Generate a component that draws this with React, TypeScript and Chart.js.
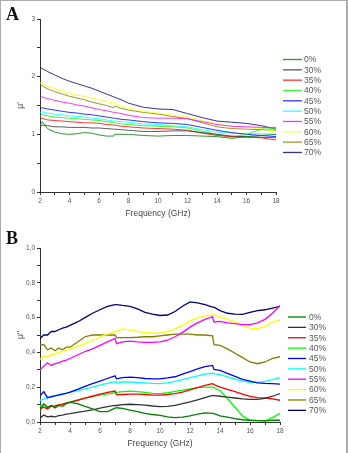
import React, { useEffect, useRef } from "react";
import { Chart, registerables } from "chart.js";

Chart.register(...registerables);

// Composition labels and Origin-style series colours
const SERIES_LABELS = ["0%", "30%", "35%", "40%", "45%", "50%", "55%", "60%", "65%", "70%"];
const SERIES_COLORS = [
  "#008000", "#333333", "#ff0000", "#00ff00", "#0000ff",
  "#00ffff", "#ff00ff", "#ffff00", "#808000", "#000080",
];

// Real permeability μ' (panel A)
const FREQ_REAL = [2, 2.15, 2.5, 3, 3.5, 4, 4.5, 5, 5.5, 6, 6.5, 7, 7.05, 7.5, 8, 9, 10, 11, 12, 13, 14, 15, 16, 17, 18];
const REAL_0 = [1.15, 1.22, 1.1, 1.04, 1.01, 1.0, 1.01, 1.03, 1.02, 0.99, 0.97, 0.97, 1.0, 1.0, 1.0, 0.98, 0.97, 0.98, 0.98, 0.97, 0.96, 0.93, 0.96, 0.98, 1.0];
const REAL_30 = [1.14, 1.16, 1.15, 1.13, 1.13, 1.12, 1.12, 1.12, 1.11, 1.11, 1.1, 1.09, 1.09, 1.08, 1.07, 1.05, 1.05, 1.06, 1.06, 1.03, 1.0, 0.97, 0.96, 0.95, 0.94];
const REAL_35 = [1.26, 1.28, 1.25, 1.24, 1.23, 1.22, 1.21, 1.2, 1.2, 1.19, 1.17, 1.16, 1.16, 1.14, 1.13, 1.11, 1.1, 1.09, 1.07, 1.02, 0.98, 0.96, 0.95, 0.94, 0.9];
const REAL_40 = [1.33, 1.34, 1.32, 1.3, 1.29, 1.28, 1.27, 1.26, 1.25, 1.24, 1.22, 1.2, 1.2, 1.18, 1.17, 1.15, 1.14, 1.13, 1.11, 1.05, 1.0, 0.95, 1.0, 1.09, 1.1];
const REAL_45 = [1.45, 1.46, 1.44, 1.42, 1.4, 1.38, 1.37, 1.35, 1.34, 1.32, 1.3, 1.28, 1.28, 1.26, 1.25, 1.22, 1.2, 1.19, 1.17, 1.12, 1.07, 1.03, 1.0, 0.98, 0.96];
const REAL_50 = [1.38, 1.39, 1.37, 1.35, 1.34, 1.32, 1.31, 1.3, 1.28, 1.27, 1.25, 1.23, 1.23, 1.22, 1.21, 1.18, 1.17, 1.15, 1.13, 1.08, 1.04, 1.02, 1.01, 1.01, 1.0];
const REAL_55 = [1.64, 1.65, 1.62, 1.59, 1.56, 1.54, 1.51, 1.49, 1.46, 1.43, 1.41, 1.38, 1.38, 1.36, 1.33, 1.29, 1.28, 1.28, 1.27, 1.22, 1.17, 1.14, 1.13, 1.12, 1.12];
const REAL_60 = [1.9, 1.88, 1.84, 1.79, 1.75, 1.71, 1.68, 1.66, 1.63, 1.6, 1.57, 1.54, 1.53, 1.49, 1.45, 1.4, 1.37, 1.33, 1.3, 1.24, 1.18, 1.14, 1.12, 1.1, 1.05];
const REAL_65 = [1.86, 1.84, 1.79, 1.74, 1.7, 1.66, 1.63, 1.6, 1.56, 1.53, 1.5, 1.46, 1.49, 1.45, 1.42, 1.38, 1.35, 1.31, 1.27, 1.2, 1.13, 1.1, 1.09, 1.08, 1.07];
const REAL_70 = [2.16, 2.14, 2.09, 2.03, 1.97, 1.92, 1.88, 1.84, 1.8, 1.75, 1.7, 1.65, 1.645, 1.6, 1.54, 1.47, 1.44, 1.43, 1.36, 1.29, 1.23, 1.21, 1.19, 1.15, 1.09];

// Imaginary permeability μ'' (panel B)
const FREQ_IMAG = [2, 2.25, 2.5, 2.75, 3, 3.25, 3.5, 3.75, 4, 4.5, 5, 5.5, 6, 6.5, 7, 7.1, 7.5, 8, 8.5, 9, 9.5, 10, 10.5, 11, 11.5, 12, 12.5, 13, 13.5, 13.6, 14, 14.5, 15, 15.5, 16, 16.5, 17, 17.5, 18];
const IMAG_0 = [0.065, 0.105, 0.085, 0.095, 0.08, 0.095, 0.09, 0.105, 0.113, 0.105, 0.09, 0.075, 0.06, 0.06, 0.08, 0.082, 0.078, 0.068, 0.06, 0.05, 0.043, 0.038, 0.03, 0.025, 0.028, 0.035, 0.045, 0.052, 0.05, 0.048, 0.035, 0.028, 0.02, 0.013, 0.01, 0.008, 0.007, 0.01, 0.01];
const IMAG_30 = [0.022, 0.04, 0.03, 0.033, 0.03, 0.037, 0.04, 0.045, 0.048, 0.055, 0.062, 0.07, 0.08, 0.088, 0.096, 0.095, 0.1, 0.102, 0.1, 0.097, 0.092, 0.088, 0.09, 0.096, 0.105, 0.115, 0.127, 0.14, 0.153, 0.152, 0.148, 0.143, 0.138, 0.133, 0.13, 0.13, 0.136, 0.148, 0.163];
const IMAG_35 = [0.075, 0.085, 0.075, 0.09, 0.092, 0.098, 0.103, 0.108, 0.113, 0.125, 0.137, 0.148, 0.16, 0.17, 0.178, 0.157, 0.158, 0.16, 0.16, 0.158, 0.155, 0.155, 0.158, 0.163, 0.172, 0.185, 0.197, 0.21, 0.22, 0.215, 0.2, 0.187, 0.175, 0.16, 0.147, 0.14, 0.138, 0.133, 0.125];
const IMAG_40 = [0.09, 0.1, 0.08, 0.095, 0.085, 0.1, 0.1, 0.11, 0.115, 0.125, 0.137, 0.147, 0.155, 0.162, 0.168, 0.17, 0.175, 0.177, 0.175, 0.17, 0.165, 0.163, 0.168, 0.176, 0.183, 0.19, 0.197, 0.2, 0.2, 0.198, 0.18, 0.135, 0.085, 0.035, 0.01, 0.008, 0.005, 0.025, 0.05];
const IMAG_45 = [0.15, 0.175, 0.14, 0.145, 0.15, 0.155, 0.16, 0.165, 0.172, 0.188, 0.205, 0.22, 0.235, 0.25, 0.265, 0.248, 0.255, 0.258, 0.255, 0.25, 0.248, 0.248, 0.253, 0.26, 0.275, 0.29, 0.305, 0.318, 0.325, 0.302, 0.297, 0.28, 0.262, 0.245, 0.235, 0.225, 0.222, 0.22, 0.218];
const IMAG_50 = [0.125, 0.13, 0.14, 0.148, 0.152, 0.158, 0.162, 0.166, 0.17, 0.18, 0.19, 0.2, 0.212, 0.222, 0.232, 0.228, 0.23, 0.23, 0.228, 0.225, 0.222, 0.22, 0.225, 0.233, 0.243, 0.255, 0.265, 0.275, 0.28, 0.278, 0.272, 0.26, 0.247, 0.235, 0.228, 0.228, 0.233, 0.243, 0.255];
const IMAG_55 = [0.3, 0.32, 0.34, 0.325, 0.335, 0.34, 0.35, 0.355, 0.365, 0.385, 0.405, 0.42, 0.44, 0.46, 0.48, 0.45, 0.46, 0.465, 0.46, 0.458, 0.458, 0.46, 0.47, 0.49, 0.515, 0.545, 0.57, 0.59, 0.605, 0.575, 0.578, 0.57, 0.565, 0.56, 0.56, 0.57, 0.59, 0.625, 0.67];
const IMAG_60 = [0.36, 0.38, 0.375, 0.39, 0.39, 0.4, 0.405, 0.415, 0.42, 0.435, 0.45, 0.47, 0.49, 0.505, 0.52, 0.52, 0.535, 0.53, 0.52, 0.515, 0.51, 0.51, 0.52, 0.535, 0.555, 0.58, 0.6, 0.61, 0.615, 0.615, 0.605, 0.59, 0.575, 0.555, 0.54, 0.535, 0.55, 0.575, 0.585];
const IMAG_65 = [0.44, 0.445, 0.415, 0.425, 0.41, 0.425, 0.415, 0.43, 0.43, 0.46, 0.49, 0.5, 0.5, 0.5, 0.5, 0.485, 0.485, 0.485, 0.487, 0.49, 0.49, 0.495, 0.5, 0.505, 0.505, 0.505, 0.5, 0.5, 0.495, 0.445, 0.44, 0.42, 0.395, 0.37, 0.345, 0.335, 0.345, 0.365, 0.375];
const IMAG_70 = [0.48, 0.5, 0.5, 0.52, 0.52, 0.53, 0.54, 0.545, 0.555, 0.575, 0.6, 0.625, 0.645, 0.665, 0.675, 0.675, 0.67, 0.665, 0.65, 0.63, 0.62, 0.612, 0.615, 0.635, 0.665, 0.69, 0.685, 0.675, 0.66, 0.66, 0.64, 0.625, 0.62, 0.618, 0.63, 0.64, 0.645, 0.655, 0.665];

const REAL_SERIES = [REAL_0, REAL_30, REAL_35, REAL_40, REAL_45, REAL_50, REAL_55, REAL_60, REAL_65, REAL_70];
const IMAG_SERIES = [IMAG_0, IMAG_30, IMAG_35, IMAG_40, IMAG_45, IMAG_50, IMAG_55, IMAG_60, IMAG_65, IMAG_70];

const FONT = "'Liberation Sans', Arial, sans-serif";
const W = 348;

// Draws the line-sample legend to the right of the plot
const sideLegend = {
  id: "sideLegend",
  afterDraw(chart: any, _args: any, opts: any) {
    const { ctx } = chart;
    ctx.save();
    ctx.font = `${opts.fontSize}px ${FONT}`;
    ctx.textBaseline = "middle";
    ctx.textAlign = "left";
    chart.data.datasets.forEach((ds: any, i: number) => {
      const y = opts.y0 + i * opts.dy;
      ctx.strokeStyle = ds.borderColor;
      ctx.lineWidth = opts.lineWidth;
      ctx.beginPath();
      ctx.moveTo(opts.x1, y);
      ctx.lineTo(opts.x2, y);
      ctx.stroke();
      ctx.fillStyle = "#555";
      ctx.fillText(ds.label, opts.tx, y + 0.5);
    });
    ctx.restore();
  },
};

type PanelProps = {
  height: number;
  freq: number[];
  series: number[][];
  yMax: number;
  yStep: number;
  yLabel: (v: number) => string;
  yTitle: string;
  plotTop: number;
  plotBottom: number;
  plotRight: number;
  lineWidth: number;
  alpha: number;
  titlePadBottom: number;
  legend: { x1: number; x2: number; tx: number; y0: number; dy: number };
};

function withAlpha(hex: string, a: number) {
  const r = parseInt(hex.slice(1, 3), 16);
  const g = parseInt(hex.slice(3, 5), 16);
  const b = parseInt(hex.slice(5, 7), 16);
  return `rgba(${r},${g},${b},${a})`;
}

function Panel(p: PanelProps) {
  const ref = useRef<HTMLCanvasElement | null>(null);
  useEffect(() => {
    if (!ref.current) return;
    const datasets = p.series.map((vals, i) => ({
      label: SERIES_LABELS[i],
      data: p.freq.map((f, j) => ({ x: f, y: vals[j] })),
      borderColor: withAlpha(SERIES_COLORS[i], p.alpha),
      borderWidth: p.lineWidth,
      pointRadius: 0,
      tension: 0,
      fill: false,
    }));
    const chart = new Chart(ref.current, {
      type: "line",
      data: { datasets },
      plugins: [sideLegend],
      options: {
        animation: false,
        responsive: false,
        devicePixelRatio: 1,
        layout: { padding: { left: 0, top: p.plotTop, right: W - p.plotRight, bottom: 0 } },
        plugins: {
          legend: { display: false },
          tooltip: { enabled: false },
          sideLegend: { ...p.legend, fontSize: 8.5, lineWidth: 1.3 },
        } as any,
        scales: {
          x: {
            type: "linear",
            min: 2,
            max: 18,
            afterFit: (s: any) => { s.height = p.height - p.plotBottom; },
            border: { display: true, color: "#333", width: 1 },
            grid: { display: true, drawOnChartArea: false, drawTicks: true, tickLength: 3, color: "#333" },
            ticks: {
              stepSize: 1,
              autoSkip: false,
              maxRotation: 0,
              padding: 2,
              color: "#555",
              font: { family: FONT, size: 6.5 },
              callback: (v: any) => (Number(v) % 2 === 0 ? String(v) : ""),
            },
            title: {
              display: true,
              text: "Frequency (GHz)",
              color: "#444",
              font: { family: FONT, size: 8.5 },
              padding: { top: 0, bottom: p.titlePadBottom },
            },
          },
          y: {
            type: "linear",
            min: 0,
            max: p.yMax,
            afterFit: (s: any) => { s.width = 40; },
            border: { display: true, color: "#333", width: 1 },
            grid: { display: true, drawOnChartArea: false, drawTicks: true, tickLength: 3, color: "#333" },
            ticks: {
              stepSize: p.yStep,
              autoSkip: false,
              padding: 2,
              color: "#555",
              font: { family: FONT, size: 6.5 },
              callback: (v: any) => p.yLabel(Number(v)),
            },
            title: {
              display: true,
              text: p.yTitle,
              color: "#444",
              font: { family: FONT, size: 8.5 },
              padding: { top: 16, bottom: 0 },
            },
          },
        },
      } as any,
    });
    return () => chart.destroy();
  }, []);
  return <canvas ref={ref} width={W} height={p.height} style={{ display: "block", width: W, height: p.height }} />;
}

const labelStyle: React.CSSProperties = {
  position: "absolute",
  left: 6,
  fontFamily: "'Liberation Serif', 'Times New Roman', serif",
  fontWeight: "bold",
  fontSize: 18,
  lineHeight: "18px",
  color: "#111",
};

export default function App() {
  return (
    <div style={{ position: "absolute", left: 0, top: 0, width: W, height: 453, background: "#fff", overflow: "hidden" }}>
      <Panel
        height={228}
        freq={FREQ_REAL}
        series={REAL_SERIES}
        yMax={3}
        yStep={0.5}
        yLabel={(v) => (Math.abs(v - Math.round(v)) < 1e-6 ? String(Math.round(v)) : "")}
        yTitle={"μ'"}
        plotTop={19}
        plotBottom={192}
        plotRight={276}
        lineWidth={1}
        alpha={0.8}
        titlePadBottom={9}
        legend={{ x1: 283, x2: 302, tx: 304, y0: 59.5, dy: 10.33 }}
      />
      <Panel
        height={225}
        freq={FREQ_IMAG}
        series={IMAG_SERIES}
        yMax={1}
        yStep={0.1}
        yLabel={(v) => {
          const k = Math.round(v * 10);
          return k % 2 === 0 ? (k / 10).toFixed(1).replace(".", ",") : "";
        }}
        yTitle={"μ''"}
        plotTop={20}
        plotBottom={194}
        plotRight={280}
        lineWidth={1.3}
        alpha={1}
        titlePadBottom={4}
        legend={{ x1: 288, x2: 306, tx: 309, y0: 89, dy: 10.37 }}
      />
      <div style={{ ...labelStyle, top: 5 }}>A</div>
      <div style={{ ...labelStyle, top: 229 }}>B</div>
      <div style={{ position: "absolute", left: 0, top: 0, width: 1, height: 453, background: "#aaa" }} />
      <div style={{ position: "absolute", left: 0, top: 0, width: W, height: 1, background: "#aaa" }} />
      <div style={{ position: "absolute", left: 346, top: 0, width: 2, height: 453, background: "#aaa" }} />
    </div>
  );
}
